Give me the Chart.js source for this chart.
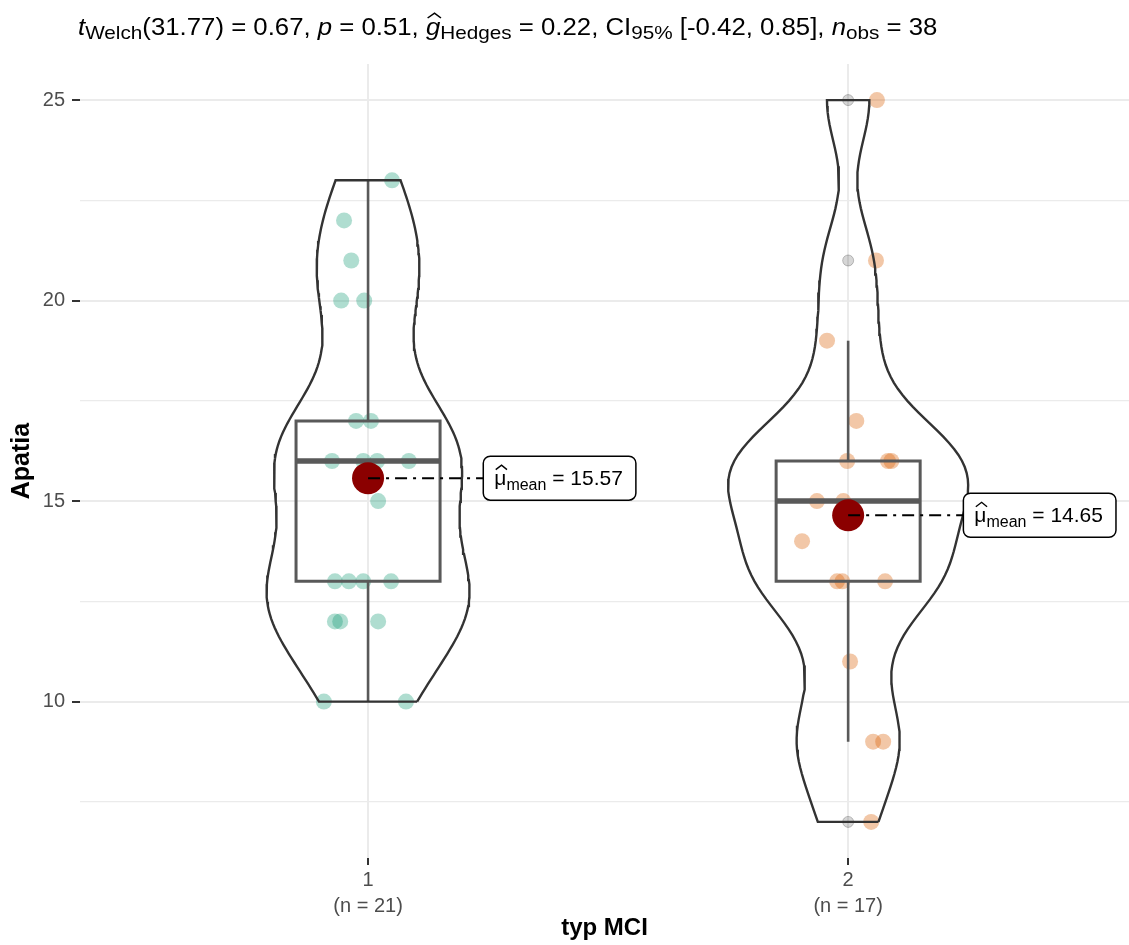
<!DOCTYPE html>
<html>
<head>
<meta charset="utf-8">
<script src="https://cdn.jsdelivr.net/npm/chart.js@4.4.1/dist/chart.umd.min.js"></script>
<style>
  body { margin: 0; background: #fff; }
</style>
</head>
<body>
<canvas id="chart" width="1129" height="945"></canvas>
<script>
const FONT = '"Liberation Sans", Arial, Helvetica, sans-serif';

// data
const groups = ['1', '2'];
const groupCounts = ['(n = 21)', '(n = 17)'];
const apatia1 = [23, 22, 21, 20, 20, 17, 17, 16, 16, 16, 16, 15, 13, 13, 13, 13, 12, 12, 12, 10, 10];
const jitter1 = [1.050, 0.950, 0.965, 0.944, 0.992, 0.975, 1.006, 0.925, 0.990, 1.019, 1.085, 1.021,
                 0.931, 0.960, 0.990, 1.048, 0.931, 0.942, 1.021, 0.908, 1.079];
const apatia2 = [25, 21, 19, 17, 16, 16, 16, 15, 15, 14, 13, 13, 13, 11, 9, 9, 7];
const jitter2 = [2.060, 2.058, 1.956, 2.017, 1.998, 2.083, 2.090, 1.935, 1.990, 1.904,
                 1.977, 1.988, 2.077, 2.004, 2.052, 2.073, 2.048];
const yMajor = [10, 15, 20, 25];
const yMinor = [7.5, 12.5, 17.5, 22.5];
const titleParts = [
  {t: 't', it: true}, {t: 'Welch', sub: true}, {t: '(31.77) = 0.67, '},
  {t: 'p', it: true}, {t: ' = 0.51, '},
  {t: 'g', it: true, hat: true}, {t: 'Hedges', sub: true}, {t: ' = 0.22, CI'},
  {t: '95%', sub: true}, {t: ' [-0.42, 0.85], '},
  {t: 'n', it: true}, {t: 'obs', sub: true}, {t: ' = 38'}
];

const pointColors = ['rgba(27,158,119,0.35)', 'rgba(217,95,2,0.35)'];

// stats helpers
function quantile(s, p) {
  const h = (s.length - 1) * p, lo = Math.floor(h);
  const hi = Math.min(lo + 1, s.length - 1);
  return s[lo] + (h - lo) * (s[hi] - s[lo]);
}
function sdev(v) {
  const m = v.reduce((a, b) => a + b, 0) / v.length;
  return Math.sqrt(v.reduce((a, b) => a + (b - m) * (b - m), 0) / (v.length - 1));
}
function bwNrd0(v) {
  const s = [...v].sort((a, b) => a - b);
  const iqr = quantile(s, 0.75) - quantile(s, 0.25);
  return 0.9 * Math.min(sdev(v), iqr / 1.34) * Math.pow(v.length, -0.2);
}
function dens(v, bw, y) {
  let s = 0;
  for (const x of v) { const z = (y - x) / bw; s += Math.exp(-z * z / 2); }
  return s / (v.length * bw * Math.sqrt(2 * Math.PI));
}

const stats = [apatia1, apatia2].map((vals, i) => {
  const s = [...vals].sort((a, b) => a - b);
  const q1 = quantile(s, 0.25), med = quantile(s, 0.5), q3 = quantile(s, 0.75);
  const f = 1.5 * (q3 - q1);
  const inside = s.filter(v => v >= q1 - f && v <= q3 + f);
  const bw = bwNrd0(vals);
  const grid = [];
  for (let k = 0; k <= 120; k++) {
    const y = s[0] + (s[s.length - 1] - s[0]) * k / 120;
    grid.push({y, d: dens(vals, bw, y)});
  }
  return {
    x: i + 1, q1, med, q3,
    lo: inside[0], hi: inside[inside.length - 1],
    outliers: s.filter(v => v < q1 - f || v > q3 + f),
    mean: vals.reduce((a, b) => a + b, 0) / vals.length,
    grid
  };
});
const maxD = Math.max(...stats.flatMap(g => g.grid.map(p => p.d)));

const line = (data, color, width, extra) => Object.assign({
  data, showLine: true, borderColor: color, borderWidth: width,
  pointRadius: 0, fill: false, tension: 0
}, extra || {});

const boxHalf = 0.15, violinHalf = 0.25, labelOffset = 0.24;

// datasets listed top-most first
const datasets = [];
stats.forEach(g => {
  datasets.push(line([{x: g.x, y: g.mean}, {x: g.x + labelOffset, y: g.mean}], '#000', 2,
    {borderDash: [12, 6, 3, 6]}));
});
datasets.push({
  data: stats.map(g => ({x: g.x, y: g.mean})),
  pointRadius: 16, pointBackgroundColor: '#8B0000', pointBorderWidth: 0
});
stats.forEach(g => {
  const right = g.grid.map(p => ({x: g.x + violinHalf * p.d / maxD, y: p.y}));
  const left = g.grid.map(p => ({x: g.x - violinHalf * p.d / maxD, y: p.y})).reverse();
  datasets.push(line([...right, ...left, right[0]], '#333333', 2.4));
});
stats.forEach(g => {
  datasets.push(line([{x: g.x, y: g.q1}, {x: g.x + boxHalf, y: g.q1}, {x: g.x + boxHalf, y: g.q3},
    {x: g.x - boxHalf, y: g.q3}, {x: g.x - boxHalf, y: g.q1}, {x: g.x, y: g.q1}], '#595959', 3));
  datasets.push(line([{x: g.x - boxHalf, y: g.med}, {x: g.x + boxHalf, y: g.med}], '#595959', 5.5));
  datasets.push(line([{x: g.x, y: g.q3}, {x: g.x, y: g.hi}], '#595959', 2.6));
  datasets.push(line([{x: g.x, y: g.q1}, {x: g.x, y: g.lo}], '#595959', 2.6));
  datasets.push({
    data: g.outliers.map(v => ({x: g.x, y: v})),
    pointRadius: 5.5, pointBackgroundColor: 'rgba(0,0,0,0.16)',
    pointBorderColor: 'rgba(0,0,0,0.22)', pointBorderWidth: 1
  });
});
[[apatia1, jitter1], [apatia2, jitter2]].forEach(([vals, jit], i) => {
  datasets.push({
    data: vals.map((v, k) => ({x: jit[k], y: v})),
    pointRadius: 8, pointBackgroundColor: pointColors[i], pointBorderWidth: 0
  });
});

// rich text (subscripts, hats) for title and mean labels
function rich(ctx, parts, x, y, size, subSize, drop, draw) {
  for (const p of parts) {
    const fs = p.sub ? subSize : size;
    ctx.font = (p.it ? 'italic ' : '') + fs + 'px ' + FONT;
    const yy = p.sub ? y + drop : y;
    const w = ctx.measureText(p.t).width;
    if (draw) {
      ctx.fillText(p.t, x, yy);
      if (p.hat) {
        ctx.beginPath();
        ctx.lineWidth = 1.4;
        ctx.moveTo(x + w * 0.12, yy - fs * 0.74);
        ctx.lineTo(x + w * 0.6, yy - fs * 0.95);
        ctx.lineTo(x + w * 1.05, yy - fs * 0.74);
        ctx.stroke();
      }
    }
    x += w;
  }
  return x;
}

const annotations = {
  id: 'annotations',
  afterDatasetsDraw(chart) {
    const {ctx, scales: {x, y}} = chart;
    ctx.save();
    ctx.fillStyle = '#000';
    ctx.strokeStyle = '#000';
    ctx.textBaseline = 'alphabetic';
    stats.forEach(g => {
      const left = x.getPixelForValue(g.x + labelOffset);
      const cy = y.getPixelForValue(g.mean);
      const parts = [{t: '\u03bc', hat: true}, {t: 'mean', sub: true}, {t: ' = ' + g.mean.toFixed(2)}];
      const w = rich(ctx, parts, 0, 0, 21, 16, 5, false) + 24;
      ctx.beginPath();
      ctx.roundRect(left, cy - 22, w, 44, 7);
      ctx.fillStyle = '#fff';
      ctx.fill();
      ctx.lineWidth = 1.5;
      ctx.stroke();
      ctx.fillStyle = '#000';
      rich(ctx, parts, left + 11, cy + 7, 21, 16, 5, true);
    });
    ctx.restore();
  },
  afterDraw(chart) {
    const ctx = chart.ctx;
    ctx.save();
    ctx.fillStyle = '#000';
    ctx.strokeStyle = '#000';
    ctx.textBaseline = 'alphabetic';
    ctx.translate(78, 35);
    ctx.scale(1.12, 1);
    rich(ctx, titleParts, 0, 0, 23, 18.5, 4, true);
    ctx.restore();
  }
};

new Chart(document.getElementById('chart'), {
  type: 'scatter',
  data: {datasets},
  plugins: [annotations],
  options: {
    responsive: false,
    animation: false,
    events: [],
    layout: {autoPadding: false, padding: {top: 64, left: 0, right: 0, bottom: 0}},
    plugins: {legend: {display: false}, tooltip: {enabled: false}},
    scales: {
      x: {
        type: 'linear', min: 0.4, max: 2.585,
        afterBuildTicks: s => { s.ticks = groups.map((g, i) => ({value: i + 1})); },
        afterFit: s => { s.height = 87; },
        ticks: {
          callback: v => [groups[v - 1], groupCounts[v - 1]],
          color: '#4d4d4d', font: {family: FONT, size: 20, lineHeight: 1.3},
          padding: 2, maxRotation: 0, autoSkip: false
        },
        grid: {color: '#ebebeb', lineWidth: 2, tickLength: 7, tickColor: '#333', tickWidth: 2},
        border: {display: false},
        title: {display: true, text: 'typ MCI', color: '#000',
          font: {family: FONT, size: 24, weight: 'bold'}, padding: {top: 0, bottom: 2}}
      },
      y: {
        min: 6.1, max: 25.9,
        afterBuildTicks: s => { s.ticks = [...yMinor, ...yMajor].sort((a, b) => a - b).map(v => ({value: v})); },
        afterFit: s => { s.width = 80; },
        ticks: {
          callback: v => yMajor.includes(v) ? String(v) : '',
          color: '#4d4d4d', font: {family: FONT, size: 20}, padding: 7
        },
        grid: {
          color: '#ebebeb',
          lineWidth: c => yMajor.includes(c.tick.value) ? 2 : 1.3,
          tickLength: 8,
          tickColor: c => yMajor.includes(c.tick.value) ? '#333' : 'rgba(0,0,0,0)',
          tickWidth: 2
        },
        border: {display: false},
        title: {display: true, text: 'Apatia', color: '#000',
          font: {family: FONT, size: 25, weight: 'bold'}, padding: {top: 7, bottom: 0}}
      }
    }
  }
});
</script>
</body>
</html>
